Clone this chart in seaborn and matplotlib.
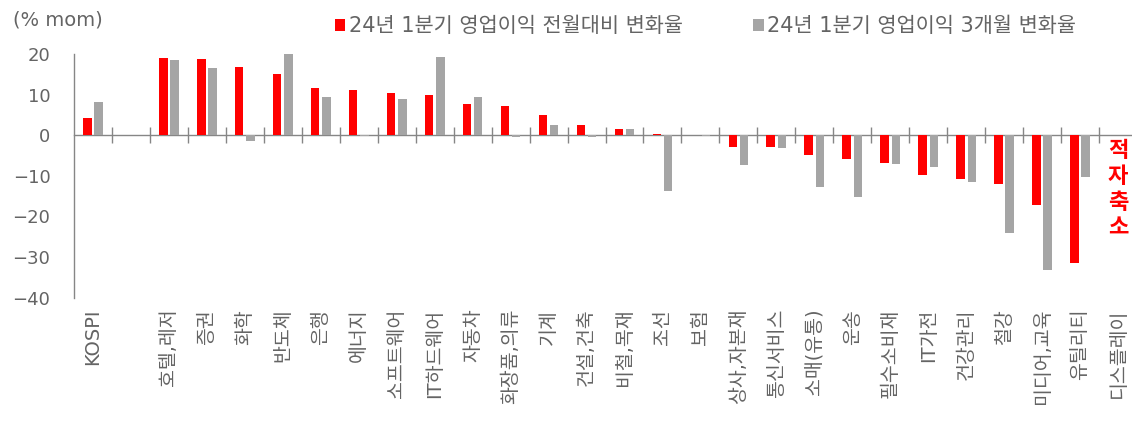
import numpy as np
import pandas as pd
import matplotlib
matplotlib.use("Agg")
import matplotlib.pyplot as plt
from matplotlib.patches import Patch
import seaborn as sns

# Sector order along the x axis (second slot intentionally left empty)
sectors = ["KOSPI", " ", "호텔,레저", "증권", "화학", "반도체", "은행", "에너지",
           "소프트웨어", "IT하드웨어", "자동차", "화장품,의류", "기계", "건설,건축",
           "비철,목재", "조선", "보험", "상사,자본재", "통신서비스", "소매(유통)",
           "운송", "필수소비재", "IT가전", "건강관리", "철강", "미디어,교육",
           "유틸리티", "디스플레이"]

# Change in 1Q24 operating-profit consensus, month over month (%)
mom_change = [4.2, np.nan, 18.9, 18.7, 16.7, 15.0, 11.6, 11.2,
              10.4, 9.85, 7.7, 7.3, 5.0, 2.5,
              1.5, 0.3, 0.0, -3.0, -3.0, -4.8,
              -5.8, -6.8, -9.8, -10.8, -11.9, -17.2,
              -31.4, np.nan]

# Change in 1Q24 operating-profit consensus over three months (%)
three_month_change = [8.2, np.nan, 18.5, 16.6, -1.5, 20.0, 9.4, -0.3,
                      8.9, 19.2, 9.4, -0.5, 2.5, -0.5,
                      1.6, -13.8, -0.3, -7.4, -3.1, -12.7,
                      -15.1, -7.2, -7.9, -11.5, -24.0, -33.3,
                      -10.2, np.nan]

series_names = ["24년 1분기 영업이익 전월대비 변화율", "24년 1분기 영업이익 3개월 변화율"]
series_colors = ["#FF0000", "#A5A5A5"]
y_ticks = [20, 10, 0, -10, -20, -30, -40]
y_unit = "(% mom)"
deficit_note = "적자축소"

# Long-form table for seaborn
df = pd.DataFrame({
    "sector": sectors * 2,
    "series": [series_names[0]] * len(sectors) + [series_names[1]] * len(sectors),
    "value": mom_change + three_month_change,
}).dropna()

sns.set_theme(style="white")
FONTS = ["DejaVu Sans", "Noto Sans CJK KR"]
plt.rcParams["font.family"] = FONTS
plt.rcParams["axes.unicode_minus"] = True

AXIS_GRAY = "#868686"
TEXT_GRAY = "#646464"

W, H = 1132, 423
fig = plt.figure(figsize=(W / 100, H / 100), dpi=100)
ax = fig.add_axes([74 / W, 1 - 297.7 / H, (1137 - 74) / W, (297.7 - 54) / H])

sns.barplot(data=df, x="sector", y="value", hue="series", order=sectors,
            hue_order=series_names, palette=series_colors, saturation=1,
            width=0.59, gap=0.24, errorbar=None, linewidth=0,
            legend=False, ax=ax)

ax.set_xlim(-0.5, len(sectors) - 0.5)
ax.set_ylim(-40, 20)
ax.set_xlabel("")
ax.set_ylabel("")

for side in ("top", "right", "bottom"):
    ax.spines[side].set_visible(False)
ax.spines["left"].set_color(AXIS_GRAY)
ax.spines["left"].set_linewidth(1)

# y axis
ax.set_yticks(y_ticks)
ax.tick_params(axis="y", direction="in", length=6, width=1, color=AXIS_GRAY,
               labelcolor=TEXT_GRAY, labelsize=13, pad=17)

# sector labels along the bottom
ax.set_xticks(range(len(sectors)))
ax.set_xticklabels(sectors, rotation=90, ha="center", va="top")
ax.tick_params(axis="x", length=0, pad=8, labelsize=14, labelcolor=TEXT_GRAY)

# zero line with separators between sectors
zero_axis = ax.secondary_xaxis(0, transform=ax.transData)
zero_axis.set_xticks(np.arange(0.5, len(sectors) - 1, 1.0))
zero_axis.tick_params(axis="x", direction="inout", length=12, width=1,
                      color=AXIS_GRAY, labelbottom=False)
zero_axis.spines["bottom"].set_color(AXIS_GRAY)
zero_axis.spines["bottom"].set_linewidth(1)

# unit label
fig.text(13 / W, 1 - 20 / H, y_unit, ha="left", va="center", fontsize=14,
         color=TEXT_GRAY)

# legend
handles = [Patch(facecolor=c, edgecolor="none", label=n)
           for c, n in zip(series_colors, series_names)]
ax.legend(handles=handles, loc="center left", bbox_to_anchor=(335 / W, 1 - 26 / H),
          bbox_transform=fig.transFigure, ncol=2, frameon=False,
          handlelength=0.5, handleheight=0.5, handletextpad=0.15,
          columnspacing=3.4, borderpad=0, borderaxespad=0,
          prop={"family": FONTS, "size": 15}, labelcolor=TEXT_GRAY)

# vertical note in the last slot
ax.text(len(sectors) - 1, -1.0, "\n".join(deficit_note), ha="center", va="top",
        color="#FF0000", fontsize=16, fontweight="bold", linespacing=1.15,
        family=["Noto Sans CJK KR"])

fig.savefig("out.png", dpi=100)
